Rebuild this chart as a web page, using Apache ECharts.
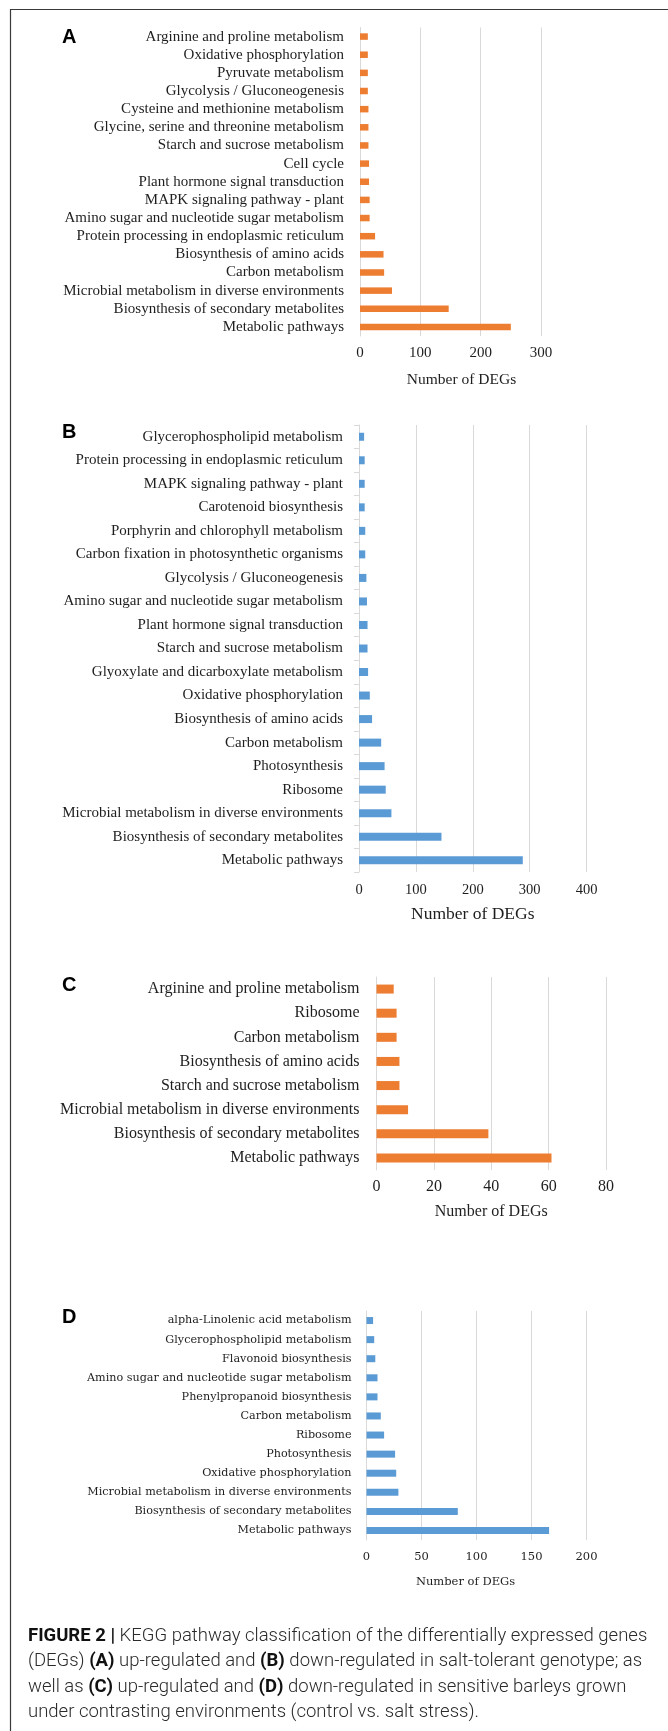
<!DOCTYPE html>
<html>
<head>
<meta charset="utf-8">
<title>KEGG pathway classification of DEGs</title>
<script src="https://cdn.jsdelivr.net/npm/echarts@6/dist/echarts.min.js"></script>
<style>
  html, body { margin: 0; padding: 0; background: #ffffff; }
  #chart { width: 668px; height: 1731px; }
</style>
</head>
<body>
<div id="chart"></div>
<script>
// Panel A: up-regulated, salt-tolerant genotype (top to bottom)
const catsA = [
  'Arginine and proline metabolism',
  'Oxidative phosphorylation',
  'Pyruvate metabolism',
  'Glycolysis / Gluconeogenesis',
  'Cysteine and methionine metabolism',
  'Glycine, serine and threonine metabolism',
  'Starch and sucrose metabolism',
  'Cell cycle',
  'Plant hormone signal transduction',
  'MAPK signaling pathway - plant',
  'Amino sugar and nucleotide sugar metabolism',
  'Protein processing in endoplasmic reticulum',
  'Biosynthesis of amino acids',
  'Carbon metabolism',
  'Microbial metabolism in diverse environments',
  'Biosynthesis of secondary metabolites',
  'Metabolic pathways'
];
const valsA = [13, 13, 13, 13, 14, 14, 14, 15, 15, 16, 16, 25, 39, 40, 53, 147, 250];
const ticksA = [0, 100, 200, 300];

// Panel B: down-regulated, salt-tolerant genotype
const catsB = [
  'Glycerophospholipid metabolism',
  'Protein processing in endoplasmic reticulum',
  'MAPK signaling pathway - plant',
  'Carotenoid biosynthesis',
  'Porphyrin and chlorophyll metabolism',
  'Carbon fixation in photosynthetic organisms',
  'Glycolysis / Gluconeogenesis',
  'Amino sugar and nucleotide sugar metabolism',
  'Plant hormone signal transduction',
  'Starch and sucrose metabolism',
  'Glyoxylate and dicarboxylate metabolism',
  'Oxidative phosphorylation',
  'Biosynthesis of amino acids',
  'Carbon metabolism',
  'Photosynthesis',
  'Ribosome',
  'Microbial metabolism in diverse environments',
  'Biosynthesis of secondary metabolites',
  'Metabolic pathways'
];
const valsB = [9, 10, 10, 10, 11, 11, 13, 14, 15, 15, 16, 19, 23, 39, 45, 47, 57, 145, 288];
const ticksB = [0, 100, 200, 300, 400];

// Panel C: up-regulated, sensitive barley
const catsC = [
  'Arginine and proline metabolism',
  'Ribosome',
  'Carbon metabolism',
  'Biosynthesis of amino acids',
  'Starch and sucrose metabolism',
  'Microbial metabolism in diverse environments',
  'Biosynthesis of secondary metabolites',
  'Metabolic pathways'
];
const valsC = [6, 7, 7, 8, 8, 11, 39, 61];
const ticksC = [0, 20, 40, 60, 80];

// Panel D: down-regulated, sensitive barley
const catsD = [
  'alpha-Linolenic acid metabolism',
  'Glycerophospholipid metabolism',
  'Flavonoid biosynthesis',
  'Amino sugar and nucleotide sugar metabolism',
  'Phenylpropanoid biosynthesis',
  'Carbon metabolism',
  'Ribosome',
  'Photosynthesis',
  'Oxidative phosphorylation',
  'Microbial metabolism in diverse environments',
  'Biosynthesis of secondary metabolites',
  'Metabolic pathways'
];
const valsD = [6, 7, 8, 10, 10, 13, 16, 26, 27, 29, 83, 166];
const ticksD = [0, 50, 100, 150, 200];

const axisName = 'Number of DEGs';
const panelLetters = ['A', 'B', 'C', 'D'];

const ORANGE = '#ED7D31';
const BLUE = '#5B9BD5';
const GRID_GRAY = '#D9D9D9';
const TEXT = '#1e1e1e';
const SERIF = '"Liberation Serif", "Times New Roman", serif';

// Layout of the four panels (pixel boxes of each plot area)
const panels = [
  { cats: catsA, vals: valsA, ticks: ticksA, color: ORANGE,
    box: { left: 360, top: 27.5, width: 181, height: 308.5 },
    barWidth: 6.5, labelFont: 15, labelFamily: SERIF, labelMargin: 16,
    tickFont: 15, tickMargin: 10, nameFont: 15.5, nameGap: 36, namePad: [0, 0, 0, 22],
    catTicks: false, letterY: 37 },
  { cats: catsB, vals: valsB, ticks: ticksB, color: BLUE,
    box: { left: 359, top: 425, width: 227.5, height: 447 },
    barWidth: 8, labelFont: 15, labelFamily: SERIF, labelMargin: 16,
    tickFont: 14.5, tickMargin: 11, nameFont: 17.5, nameGap: 33, namePad: [0, 0, 0, 0],
    catTicks: true, letterY: 432 },
  { cats: catsC, vals: valsC, ticks: ticksC, color: ORANGE,
    box: { left: 376.5, top: 977, width: 229.5, height: 193 },
    barWidth: 9, labelFont: 16, labelFamily: SERIF, labelMargin: 17,
    tickFont: 16, tickMargin: 9, nameFont: 16, nameGap: 34, namePad: [0, 0, 0, 0],
    catTicks: false, letterY: 985 },
  { cats: catsD, vals: valsD, ticks: ticksD, color: BLUE,
    box: { left: 366.5, top: 1311, width: 220, height: 229 },
    barWidth: 7, labelFont: 11.2, labelFamily: '"DejaVu Serif", serif', labelMargin: 15,
    tickFont: 11.5, tickMargin: 11, nameFont: 11.5, nameGap: 36, namePad: [0, 22, 0, 0],
    catTicks: false, letterY: 1317 }
];

const grid = [], xAxis = [], yAxis = [], series = [];
panels.forEach((p, i) => {
  grid.push(Object.assign({ containLabel: false }, p.box));
  const step = p.ticks[1] - p.ticks[0];
  xAxis.push({
    type: 'value', gridIndex: i,
    min: p.ticks[0], max: p.ticks[p.ticks.length - 1], interval: step,
    axisLine: { show: false }, axisTick: { show: false },
    splitLine: { show: true, lineStyle: { color: GRID_GRAY, width: 1 } },
    axisLabel: { color: TEXT, fontFamily: p.labelFamily, fontSize: p.tickFont, margin: p.tickMargin },
    name: axisName, nameLocation: 'middle', nameGap: p.nameGap,
    nameTextStyle: { color: TEXT, fontFamily: p.labelFamily, fontSize: p.nameFont, padding: p.namePad }
  });
  yAxis.push({
    type: 'category', gridIndex: i, data: p.cats, inverse: true,
    axisLine: { show: true, lineStyle: { color: GRID_GRAY, width: 1 } },
    axisTick: { show: p.catTicks, length: 5, lineStyle: { color: GRID_GRAY } },
    splitLine: { show: false },
    axisLabel: { color: TEXT, fontFamily: p.labelFamily, fontSize: p.labelFont, margin: p.labelMargin, interval: 0 }
  });
  series.push({
    type: 'bar', xAxisIndex: i, yAxisIndex: i, data: p.vals,
    barWidth: p.barWidth, itemStyle: { color: p.color },
    silent: true, animation: false
  });
});

// Panel letters, frame and figure caption
const graphic = [
  { type: 'polyline', silent: true,
    shape: { points: [[10.5, 1731], [10.5, 9.5], [668, 9.5]] },
    style: { stroke: '#3a3a3a', lineWidth: 1.2, fill: null } }
];
panels.forEach((p, i) => {
  graphic.push({
    type: 'text', x: 62, y: p.letterY, silent: true,
    style: { text: panelLetters[i], fill: '#000', font: 'bold 20px "Liberation Sans", Arial, sans-serif',
             align: 'left', verticalAlign: 'middle' }
  });
});

const captionLines = [
  '{b|FIGURE 2 |} KEGG pathway classification of the differentially expressed genes',
  '(DEGs) {b|(A)} up-regulated and {b|(B)} down-regulated in salt-tolerant genotype; as',
  'well as {b|(C)} up-regulated and {b|(D)} down-regulated in sensitive barleys grown',
  'under contrasting environments (control vs. salt stress).'
];
const capFamily = 'Roboto, "Liberation Sans", Arial, sans-serif';
captionLines.forEach((line, k) => {
  graphic.push({
    type: 'text', x: 28, y: 1636 + k * 25.5, silent: true,
    style: {
      text: line, fill: '#2a2a2a', fontFamily: capFamily, fontSize: 18.5, fontWeight: 300,
      align: 'left', verticalAlign: 'middle',
      rich: { b: { fontWeight: 'bold', fill: '#111', fontFamily: capFamily, fontSize: 18.5 } }
    }
  });
});

const chart = echarts.init(document.getElementById('chart'), null, { renderer: 'canvas' });
chart.setOption({
  backgroundColor: '#ffffff',
  animation: false,
  grid, xAxis, yAxis, series, graphic
});
</script>
</body>
</html>
